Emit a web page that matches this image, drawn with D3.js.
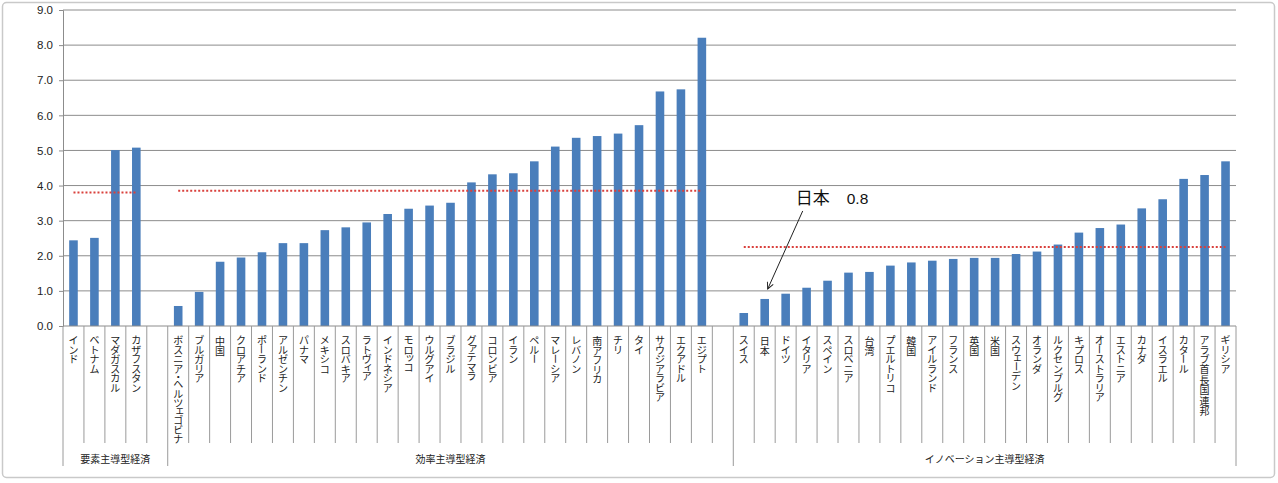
<!DOCTYPE html>
<html lang="ja"><head><meta charset="utf-8">
<script src="https://cdn.jsdelivr.net/npm/d3@7"></script>
<style>
html,body{margin:0;padding:0;background:#fff;}
svg{display:block;font-family:"Noto Sans CJK JP","Noto Sans",sans-serif;}
</style></head>
<body>
<svg id="chart" width="1278" height="483"></svg>
<script>
const groupNames = ["要素主導型経済","効率主導型経済","イノベーション主導型経済"];

const factorCountries = ["インド","ベトナム","マダガスカル","カザフスタン"];
const factorValues = [2.44,2.51,5.01,5.08];

const efficiencyCountries = ["ボスニア・ヘルツェゴビナ","ブルガリア","中国","クロアチア","ポーランド","アルゼンチン","パナマ","メキシコ","スロバキア","ラトヴィア","インドネシア","モロッコ","ウルグアイ","ブラジル","グァテマラ","コロンビア","イラン","ペルー","マレーシア","レバノン","南アフリカ","チリ","タイ","サウジアラビア","エクアドル","エジプト"];
const efficiencyValues = [0.57,0.97,1.83,1.95,2.10,2.36,2.36,2.73,2.81,2.95,3.19,3.34,3.43,3.51,4.09,4.32,4.35,4.69,5.11,5.36,5.41,5.48,5.72,6.68,6.74,8.21];

const innovationCountries = ["スイス","日本","ドイツ","イタリア","スペイン","スロベニア","台湾","プエルトリコ","韓国","アイルランド","フランス","英国","米国","スウェーデン","オランダ","ルクセンブルグ","キプロス","オーストラリア","エストニア","カナダ","イスラエル","カタール","アラブ首長国連邦","ギリシア"];
const innovationValues = [0.37,0.77,0.92,1.09,1.29,1.52,1.54,1.72,1.81,1.86,1.91,1.94,1.94,2.05,2.12,2.32,2.66,2.79,2.89,3.35,3.61,4.19,4.30,4.69];

const groupAverages = [3.80,3.85,2.25];

const yTicks = [0,1,2,3,4,5,6,7,8,9];
const yTickLabels = ["0.0","1.0","2.0","3.0","4.0","5.0","6.0","7.0","8.0","9.0"];

const annotationCountry = "日本";
const annotationLabel = "日本";
const annotationValue = "0.8";

(function(){
const groupsData = [
  {name:groupNames[0], countries:factorCountries, values:factorValues, avg:groupAverages[0]},
  {name:groupNames[1], countries:efficiencyCountries, values:efficiencyValues, avg:groupAverages[1]},
  {name:groupNames[2], countries:innovationCountries, values:innovationValues, avg:groupAverages[2]}
];
const cats = [];
groupsData.forEach((g,gi)=>{
  g.start = cats.length;
  g.countries.forEach((c,i)=>cats.push({key:c, label:c, value:g.values[i], group:gi}));
  if(gi<2) cats.push({key:"_gap"+gi, label:"", value:null, group:gi});
  g.end = cats.length;
});

const svg = d3.select("#chart");
const pL=63, pR=1236, pT=10, pB=326;

const x = d3.scaleBand().domain(cats.map(d=>d.key)).range([pL,pR]).padding(0);
const y = d3.scaleLinear().domain([0,9]).range([pB,pT]);
const bw = x.bandwidth();
const barW = bw*0.41;

svg.append("rect").attr("x",2.5).attr("y",2.5).attr("width",1272).attr("height",475)
  .attr("rx",4).attr("fill","#fff").attr("stroke","#c9c9c9").attr("stroke-width",1.5);

svg.append("g").selectAll("line").data(yTicks.filter(t=>t>0)).join("line")
  .attr("x1",pL).attr("x2",pR).attr("y1",d=>y(d)).attr("y2",d=>y(d))
  .attr("stroke","#8c8c8c").attr("stroke-width",1);

const yAxis = d3.axisLeft(y).tickValues(yTicks).tickFormat((d,i)=>yTickLabels[i]).tickSize(4).tickPadding(6);
const yg = svg.append("g").attr("transform",`translate(${pL},0)`).call(yAxis);
yg.select(".domain").attr("stroke","#8c8c8c");
yg.selectAll(".tick line").attr("stroke","#8c8c8c");
yg.selectAll("text").attr("font-size","11.5px").attr("fill","#222").attr("font-family","'Liberation Sans',Arial,sans-serif");

svg.append("g").selectAll("rect").data(cats.filter(d=>d.value!=null)).join("rect")
  .attr("x",d=>x(d.key)+bw/2-barW/2).attr("width",barW)
  .attr("y",d=>y(d.value)).attr("height",d=>y(0)-y(d.value))
  .attr("fill","#4a7ebb");

const line = d3.line().x(d=>d[0]).y(d=>d[1]);
groupsData.forEach(g=>{
  const first = g.countries[0], last = g.countries[g.countries.length-1];
  svg.append("path")
    .attr("d", line([[x(first)+bw/2, y(g.avg)],[x(last)+bw/2, y(g.avg)]]))
    .attr("stroke","#d9403c").attr("stroke-width",2).attr("stroke-dasharray","2,2").attr("fill","none");
});

svg.append("line").attr("x1",pL).attr("x2",pR).attr("y1",pB).attr("y2",pB)
  .attr("stroke","#8c8c8c").attr("stroke-width",1);

const groupBoundaryIdx = new Set([0, groupsData[1].start, groupsData[2].start, cats.length]);
svg.append("g").selectAll("line").data(d3.range(cats.length+1)).join("line")
  .attr("x1",i=>pL+i*bw).attr("x2",i=>pL+i*bw)
  .attr("y1",pB).attr("y2",i=>groupBoundaryIdx.has(i)?466:443)
  .attr("stroke","#9a9a9a").attr("stroke-width",1);

// vertical category labels, one glyph per text element, proportional advances
const smallKana = new Set("ァィゥェォッャュョヮ".split(""));
const isKanji = ch => /[\u4e00-\u9fff]/.test(ch);
const adv = ch => ch==="・" ? 6 : smallKana.has(ch) ? 7.5 : isKanji(ch) ? 10.5 : 9.5;
const labG = svg.append("g").attr("font-size","10px").attr("fill","#222");
cats.filter(d=>d.label).forEach(d=>{
  const cx = x(d.key)+bw/2;
  let pos = 335;
  Array.from(d.label).forEach(ch=>{
    const a = adv(ch);
    const cy = pos + a/2;
    const t = labG.append("text").attr("text-anchor","middle").attr("dominant-baseline","central");
    if(ch==="ー"){
      t.attr("transform",`translate(${cx},${cy}) rotate(90)`).attr("x",0).attr("y",0).text(ch);
    } else if(smallKana.has(ch)){
      t.attr("x",cx+1.5).attr("y",cy-1.5).text(ch);
    } else {
      t.attr("x",cx).attr("y",cy).text(ch);
    }
    pos += a;
  });
});

svg.append("g").selectAll("text").data(groupsData).join("text")
  .attr("x",g=>(pL+g.start*bw + pL+g.end*bw)/2).attr("y",463)
  .attr("text-anchor","middle").attr("font-size","10px").attr("fill","#222")
  .text(g=>g.name);

const jx = x(annotationCountry)+bw/2;
const jv = innovationValues[innovationCountries.indexOf(annotationCountry)];
const jy = y(jv);
svg.append("defs").append("marker").attr("id","arr").attr("viewBox","0 0 10 10")
  .attr("refX",9).attr("refY",5).attr("markerWidth",8).attr("markerHeight",8).attr("orient","auto")
  .attr("markerUnits","userSpaceOnUse")
  .append("path").attr("d","M1,1 L9,5 L1,9").attr("fill","none").attr("stroke","#222").attr("stroke-width",1.2);
svg.append("line").attr("x1",jx+38).attr("y1",jy-88).attr("x2",jx+3).attr("y2",jy-10)
  .attr("stroke","#222").attr("stroke-width",1).attr("marker-end","url(#arr)");
svg.append("text").attr("x",jx+31).attr("y",jy-95).attr("font-size","17px").attr("fill","#111").text(annotationLabel);
svg.append("text").attr("x",jx+82).attr("y",jy-95).attr("font-size","15.5px").attr("fill","#111")
  .attr("font-family","'Liberation Sans',Arial,sans-serif").text(annotationValue);
})();
</script>
</body></html>
